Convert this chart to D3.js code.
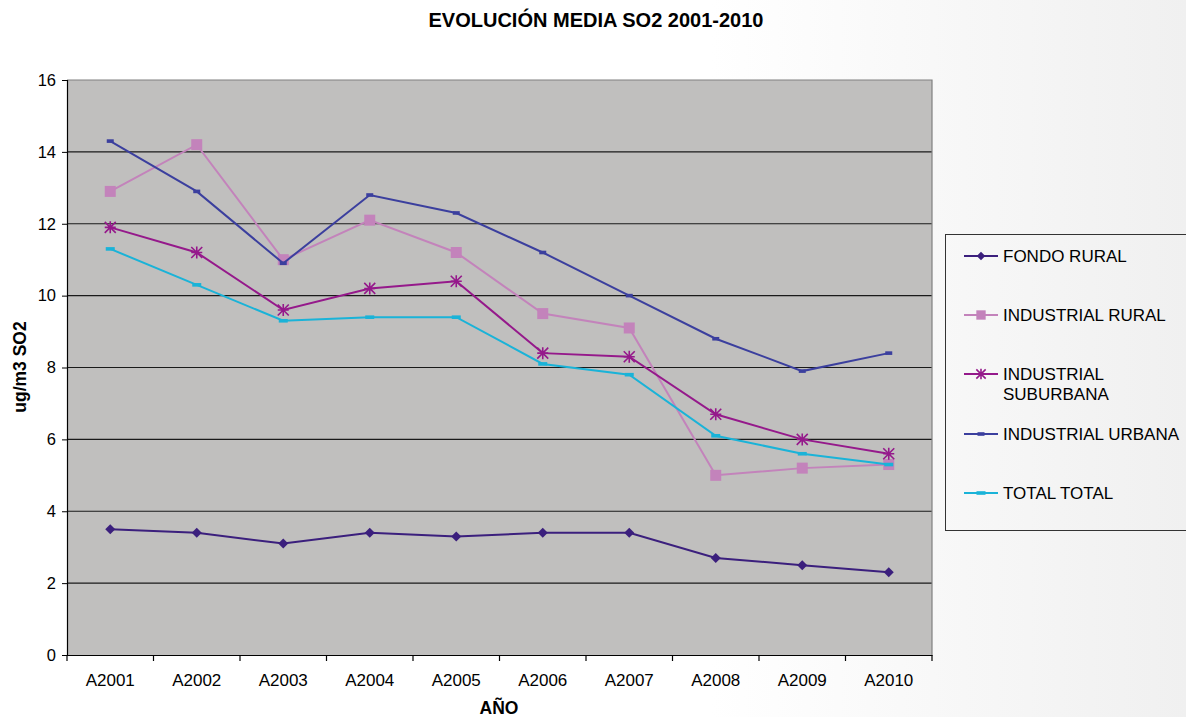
<!DOCTYPE html>
<html><head><meta charset="utf-8">
<script src="https://cdn.jsdelivr.net/npm/d3@7"></script>
<style>body{margin:0;}svg{display:block;font-family:"Liberation Sans",Arial,sans-serif;}</style>
</head><body>
<script>
const categories = ["A2001","A2002","A2003","A2004","A2005","A2006","A2007","A2008","A2009","A2010"];
const fondoRural = [3.5,3.4,3.1,3.4,3.3,3.4,3.4,2.7,2.5,2.3];
const industrialRural = [12.9,14.2,11.0,12.1,11.2,9.5,9.1,5.0,5.2,5.3];
const industrialSuburbana = [11.9,11.2,9.6,10.2,10.4,8.4,8.3,6.7,6.0,5.6];
const industrialUrbana = [14.3,12.9,10.9,12.8,12.3,11.2,10.0,8.8,7.9,8.4];
const totalTotal = [11.3,10.3,9.3,9.4,9.4,8.1,7.8,6.1,5.6,5.3];
const yTicks = [0,2,4,6,8,10,12,14,16];
const seriesNames = ["FONDO RURAL","INDUSTRIAL RURAL","INDUSTRIAL SUBURBANA","INDUSTRIAL URBANA","TOTAL TOTAL"];

const series = [
  {name: seriesNames[0], label:["FONDO RURAL"], values: fondoRural, color:"#3b1f7d", marker:"diamond", lw:2},
  {name: seriesNames[1], label:["INDUSTRIAL RURAL"], values: industrialRural, color:"#c383bb", marker:"square", lw:2},
  {name: seriesNames[2], label:["INDUSTRIAL","SUBURBANA"], values: industrialSuburbana, color:"#95198b", marker:"star", lw:2},
  {name: seriesNames[3], label:["INDUSTRIAL URBANA"], values: industrialUrbana, color:"#3b3f9e", marker:"dash", lw:2},
  {name: seriesNames[4], label:["TOTAL TOTAL"], values: totalTotal, color:"#1ab3d8", marker:"dash2", lw:2}
];

const W = 1186, H = 717;
const svg = d3.select("body").append("svg").attr("width", W).attr("height", H);
const defs = svg.append("defs");
const grad = defs.append("linearGradient").attr("id","bg").attr("x1","0").attr("y1","0").attr("x2","1").attr("y2","0");
grad.append("stop").attr("offset","0").attr("stop-color","#ffffff");
grad.append("stop").attr("offset","0.6").attr("stop-color","#ffffff");
grad.append("stop").attr("offset","1").attr("stop-color","#f0f0f0");
svg.append("rect").attr("width",W).attr("height",H).attr("fill","url(#bg)");

const L = 67, R = 932, T = 80, B = 655;
const x = d3.scaleBand().domain(categories).range([L, R]);
const y = d3.scaleLinear().domain([0,16]).range([B, T]);

svg.append("rect").attr("x",L).attr("y",T).attr("width",R-L).attr("height",B-T).attr("fill","#c0bfbe");

// gridlines
svg.append("g").selectAll("line").data(yTicks.filter(d=>d>0 && d<16)).join("line")
  .attr("x1",L).attr("x2",R).attr("y1",d=>y(d)).attr("y2",d=>y(d))
  .attr("stroke","#1a1a1a").attr("stroke-width",1.2);
// top and right border
svg.append("path").attr("d",`M${L},${T}H${R}V${B}`).attr("fill","none").attr("stroke","#808080").attr("stroke-width",1.2);

// axes
const yAxis = d3.axisLeft(y).tickValues(yTicks).tickSize(5).tickPadding(6).tickFormat(d3.format("d"));
const gy = svg.append("g").attr("transform",`translate(${L},0)`).call(yAxis);
gy.select(".domain").attr("stroke","#000").attr("stroke-width",1.2);
gy.selectAll(".tick line").attr("stroke","#000");
gy.selectAll("text").attr("font-size",16.5).attr("fill","#000");

const xAxis = d3.axisBottom(x).tickSize(0).tickPadding(19);
const gx = svg.append("g").attr("transform",`translate(0,${B})`).call(xAxis);
gx.select(".domain").attr("stroke","#000").attr("stroke-width",1.2);
gx.selectAll("text").attr("font-size",17).attr("fill","#000");
// boundary ticks
gx.append("g").selectAll("line").data(d3.range(categories.length+1)).join("line")
  .attr("x1",i=>L + i*x.step()).attr("x2",i=>L + i*x.step()).attr("y1",0).attr("y2",6)
  .attr("stroke","#000").attr("stroke-width",1.2);

const line = d3.line().x((d,i)=>x(categories[i])+x.bandwidth()/2).y(d=>y(d));

function drawMarker(g, type, color, cx, cy, scale=1){
  if(type==="diamond"){
    const s=5*scale;
    g.append("path").attr("d",`M${cx},${cy-s}L${cx+s},${cy}L${cx},${cy+s}L${cx-s},${cy}Z`).attr("fill",color);
  } else if(type==="square"){
    const s=5.5*scale;
    g.append("rect").attr("x",cx-s).attr("y",cy-s).attr("width",2*s).attr("height",2*s).attr("fill",color);
  } else if(type==="star"){
    const s=5.5*scale;
    const p=`M${cx-s},${cy-s}L${cx+s},${cy+s}M${cx-s},${cy+s}L${cx+s},${cy-s}M${cx},${cy-s-0.5}L${cx},${cy+s+0.5}M${cx-s},${cy}L${cx+s},${cy}`;
    g.append("path").attr("d",p).attr("stroke",color).attr("stroke-width",1.6).attr("fill","none");
  } else if(type==="dash"){
    g.append("rect").attr("x",cx-3.5).attr("y",cy-1.8).attr("width",7).attr("height",3.6).attr("fill",color);
  } else if(type==="dash2"){
    g.append("rect").attr("x",cx-4.5).attr("y",cy-1.8).attr("width",9).attr("height",3.6).attr("fill",color);
  }
}

series.forEach(s=>{
  const g = svg.append("g");
  g.append("path").datum(s.values).attr("d",line).attr("fill","none").attr("stroke",s.color).attr("stroke-width",s.lw);
  s.values.forEach((v,i)=>drawMarker(g, s.marker, s.color, x(categories[i])+x.bandwidth()/2, y(v)));
});

// title & axis labels
svg.append("text").attr("x",596).attr("y",27).attr("text-anchor","middle").attr("font-size",20).attr("font-weight","bold").text("EVOLUCIÓN MEDIA SO2 2001-2010");
svg.append("text").attr("x",499).attr("y",714).attr("text-anchor","middle").attr("font-size",17.5).attr("font-weight","bold").text("AÑO");
svg.append("text").attr("transform","translate(26,367) rotate(-90)").attr("text-anchor","middle").attr("font-size",17.5).attr("font-weight","bold").text("ug/m3 SO2");

// legend
const lg = svg.append("g");
lg.append("rect").attr("x",945.5).attr("y",234.5).attr("width",260).attr("height",296).attr("fill","none").attr("stroke","#333").attr("stroke-width",1);
const legY = [256, 315, 374, 434, 493];
series.forEach((s,i)=>{
  const yy = legY[i];
  lg.append("line").attr("x1",964).attr("x2",998).attr("y1",yy).attr("y2",yy).attr("stroke",s.color).attr("stroke-width",2);
  drawMarker(lg, s.marker, s.color, 981, yy, 0.85);
  s.label.forEach((t,j)=>{
    lg.append("text").attr("x",1003).attr("y",yy+6+j*20).attr("font-size",17).attr("fill","#000").text(t);
  });
});
</script>
</body></html>
